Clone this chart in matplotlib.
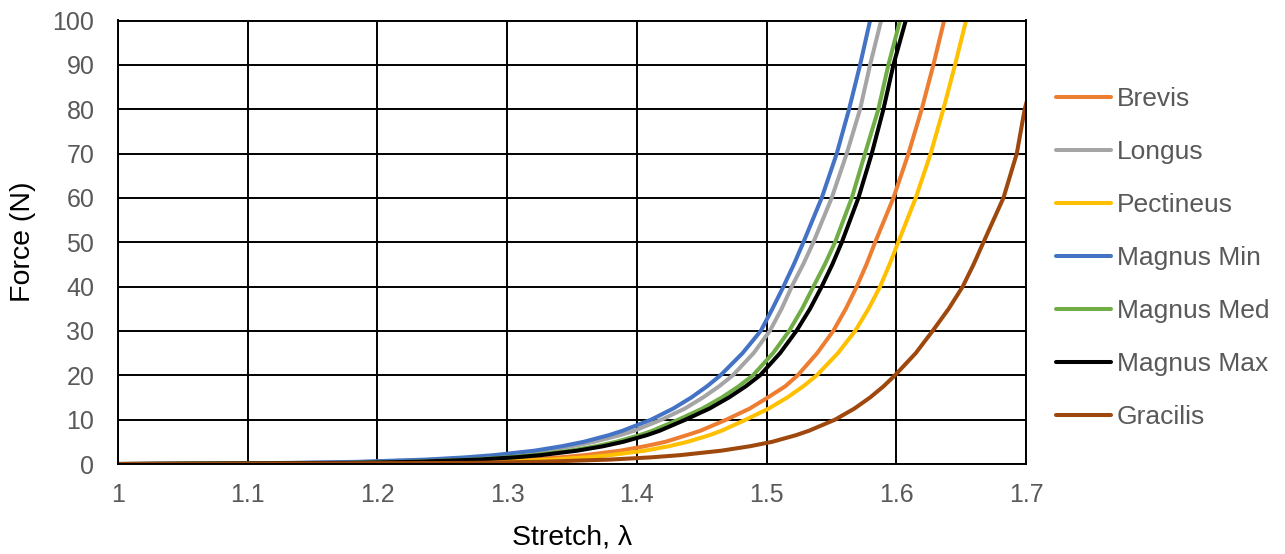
import matplotlib
matplotlib.use("Agg")
import matplotlib.pyplot as plt

# force levels (N) and the stretch at which each muscle reaches them
force = [0, 0.25, 0.5, 1, 1.5, 2, 3, 4, 5, 6.5, 7.5, 10, 12.5, 15, 17.5, 20, 25, 30, 35,
         40, 45, 50, 60, 70, 80, 90, 100, 120]

brevis = [1.0, 1.222, 1.268, 1.314, 1.341, 1.360, 1.387, 1.4061, 1.422, 1.4385, 1.449, 1.469,
          1.487, 1.501, 1.5143, 1.524, 1.539, 1.5514, 1.5611,
          1.5695, 1.577, 1.5837, 1.5978, 1.6094, 1.6196, 1.6286, 1.6369, 1.651]
longus = [1.0, 1.142, 1.194, 1.246, 1.276, 1.298, 1.329, 1.350, 1.367, 1.387, 1.398, 1.419,
          1.437, 1.451, 1.4633, 1.474, 1.490, 1.5025, 1.5116,
          1.5194, 1.5282, 1.5361, 1.5502, 1.5618, 1.5721, 1.5798, 1.5883, 1.602]
pectineus = [1.0, 1.2445, 1.2895, 1.3345, 1.3608, 1.3795, 1.406, 1.4246, 1.439, 1.456, 1.4653, 1.484,
             1.5016, 1.516, 1.5282, 1.5387, 1.555, 1.5683, 1.5786,
             1.5875, 1.5948, 1.6015, 1.615, 1.6265, 1.6363, 1.6453, 1.6538, 1.668]
magnus_min = [1.0, 1.134, 1.186, 1.238, 1.268, 1.290, 1.321, 1.342, 1.359, 1.3784, 1.389, 1.411,
              1.428, 1.442, 1.454, 1.4645, 1.4815, 1.4955, 1.5045,
              1.513, 1.521, 1.5284, 1.5425, 1.5541, 1.5636, 1.5721, 1.5798, 1.593]
magnus_med = [1.0, 1.1765, 1.2245, 1.2725, 1.3006, 1.3205, 1.3486, 1.3685, 1.384, 1.4021, 1.412, 1.432,
              1.4505, 1.4655, 1.4784, 1.4895, 1.505, 1.5174, 1.5274,
              1.5361, 1.5449, 1.5528, 1.5657, 1.5759, 1.5862, 1.5939, 1.6029, 1.617]
magnus_max = [1.0, 1.182, 1.230, 1.278, 1.306, 1.326, 1.354, 1.374, 1.3895, 1.4077, 1.4176, 1.4375,
              1.456, 1.471, 1.4839, 1.495, 1.5104, 1.523, 1.5335,
              1.5425, 1.5507, 1.558, 1.5708, 1.5811, 1.5901, 1.5978, 1.6073, 1.621]
gracilis = [1.0, 1.2715, 1.3255, 1.3795, 1.411, 1.4335, 1.465, 1.4871, 1.5043, 1.5227, 1.5327, 1.5528,
            1.5677, 1.5798, 1.5901, 1.599, 1.615, 1.628, 1.6404,
            1.6512, 1.6596, 1.6672, 1.6826, 1.6929, 1.699, 1.708, 1.715, 1.728]

names = ["Brevis", "Longus", "Pectineus", "Magnus Min", "Magnus Med", "Magnus Max", "Gracilis"]
colors = ["#ED7D31", "#A5A5A5", "#FFC000", "#4472C4", "#70AD47", "#000000", "#9E480E"]
series = [brevis, longus, pectineus, magnus_min, magnus_med, magnus_max, gracilis]

plt.rcParams['font.family'] = ['Liberation Sans', 'DejaVu Sans']

fig = plt.figure(figsize=(12.85, 5.54), dpi=100)
ax = fig.add_axes([118 / 1285, 1 - 464 / 554, (1026 - 118) / 1285, (464 - 20.5) / 554])

for x, name, c in zip(series, names, colors):
    ax.plot(x, force, color=c, lw=2.9, label=name,
            solid_capstyle='round', solid_joinstyle='round')

ax.set_xlim(1, 1.7)
ax.set_ylim(0, 100)
ax.set_xticks([1, 1.1, 1.2, 1.3, 1.4, 1.5, 1.6, 1.7])
ax.set_xticklabels(["1", "1.1", "1.2", "1.3", "1.4", "1.5", "1.6", "1.7"])
ax.set_yticks(range(0, 101, 10))
ax.grid(True, color='black', lw=1.4)
ax.set_axisbelow(True)
for s in ax.spines.values():
    s.set_color('black')
    s.set_linewidth(1.4)
ax.tick_params(length=0, labelsize=18, labelcolor='#595959')
ax.tick_params(axis='y', pad=17)
ax.tick_params(axis='x', pad=14)

ax.set_xlabel("Stretch, λ", fontsize=20.5, labelpad=12)
ax.set_ylabel("Force (N)", fontsize=20.5, labelpad=12)

fig.legend(loc='center left', bbox_to_anchor=(1056 / 1285, 1 - 258 / 554), frameon=False,
           fontsize=19, labelcolor='#595959', handlelength=2.1, handletextpad=0.2,
           labelspacing=1.1, borderpad=0, borderaxespad=0)

fig.savefig("out.png", dpi=100)
